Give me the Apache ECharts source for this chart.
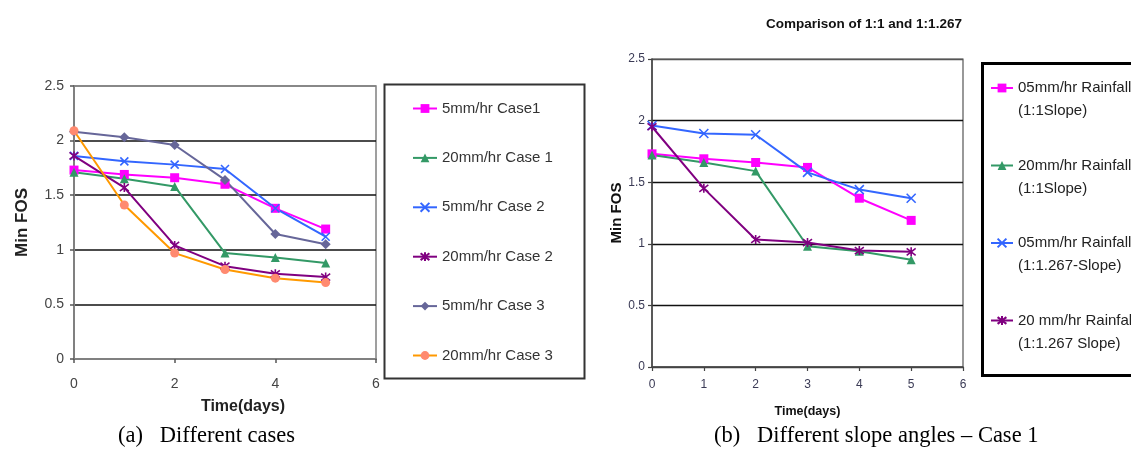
<!DOCTYPE html>
<html>
<head>
<meta charset="utf-8">
<script src="https://cdn.jsdelivr.net/npm/echarts@6/dist/echarts.min.js"></script>
<style>
html,body{margin:0;padding:0;background:#fff;}
#chart{width:1131px;height:451px;}
</style>
</head>
<body>
<div id="chart"></div>
<script>
// ---------- data ----------
const days = [0, 1, 2, 3, 4, 5];

const leftNames = ['5mm/hr Case1', '20mm/hr Case 1', '5mm/hr Case 2', '20mm/hr Case 2', '5mm/hr Case 3', '20mm/hr Case 3'];
const left5Case1  = [1.73, 1.69, 1.66, 1.60, 1.38, 1.19];
const left20Case1 = [1.71, 1.65, 1.58, 0.97, 0.93, 0.88];
const left5Case2  = [1.86, 1.81, 1.78, 1.74, 1.38, 1.12];
const left20Case2 = [1.86, 1.57, 1.04, 0.85, 0.78, 0.75];
const left5Case3  = [2.08, 2.03, 1.96, 1.64, 1.145, 1.05];
const left20Case3 = [2.09, 1.41, 0.97, 0.82, 0.74, 0.70];
const leftValues = [left5Case1, left20Case1, left5Case2, left20Case2, left5Case3, left20Case3];

const rightNames = ['05mm/hr Rainfall\n(1:1Slope)', '20mm/hr Rainfall\n(1:1Slope)', '05mm/hr Rainfall\n(1:1.267-Slope)', '20 mm/hr Rainfall\n(1:1.267 Slope)'];
const right05Slope1   = [1.73, 1.69, 1.66, 1.62, 1.37, 1.19];
const right20Slope1   = [1.72, 1.66, 1.59, 0.98, 0.94, 0.87];
const right05Slope127 = [1.96, 1.895, 1.885, 1.58, 1.44, 1.37];
const right20Slope127 = [1.95, 1.45, 1.035, 1.01, 0.945, 0.935];
const rightValues = [right05Slope1, right20Slope1, right05Slope127, right20Slope127];

// ---------- styles ----------
const ARIAL = "'Liberation Sans', Arial, sans-serif";
const SERIF = "'Liberation Serif', 'Times New Roman', serif";
const X_SYM = 'path://M0,0L10,10M10,0L0,10';
const STAR_SYM = 'path://M0,0L10,10M10,0L0,10M5,-1.5L5,11.5';

const leftStyles = [
  {line: '#FF00FF', fill: '#FF00FF', symbol: 'rect', size: 9},
  {line: '#339966', fill: '#339966', symbol: 'triangle', size: 9},
  {line: '#3366FF', fill: 'none', border: '#3366FF', symbol: X_SYM, size: 8},
  {line: '#800080', fill: 'none', border: '#800080', symbol: STAR_SYM, size: 9},
  {line: '#666699', fill: '#666699', symbol: 'diamond', size: 10},
  {line: '#FF9900', fill: '#FF8A70', symbol: 'circle', size: 9}
];
const rightStyles = [
  {line: '#FF00FF', fill: '#FF00FF', symbol: 'rect', size: 9},
  {line: '#339966', fill: '#339966', symbol: 'triangle', size: 9},
  {line: '#3366FF', fill: 'none', border: '#3366FF', symbol: X_SYM, size: 9},
  {line: '#800080', fill: 'none', border: '#800080', symbol: STAR_SYM, size: 9}
];

function makeSeries(name, vals, st, gi) {
  const itemStyle = {color: st.fill === 'none' ? 'rgba(0,0,0,0)' : st.fill};
  if (st.border) { itemStyle.borderColor = st.border; itemStyle.borderWidth = 1.6; }
  else { itemStyle.borderWidth = 0; }
  return {
    type: 'line', name: name, xAxisIndex: gi, yAxisIndex: gi,
    data: days.map((d, i) => [d, vals[i]]),
    symbol: st.symbol, symbolSize: st.size, showSymbol: true,
    lineStyle: {color: st.line, width: 2},
    itemStyle: itemStyle,
    animation: false, silent: true
  };
}

const series = [];
leftNames.forEach((n, i) => series.push(makeSeries(n, leftValues[i], leftStyles[i], 0)));
rightNames.forEach((n, i) => series.push(makeSeries(n, rightValues[i], rightStyles[i], 1)));

const legends = [];
leftNames.forEach((n, i) => {
  legends.push({
    data: [n], left: 412, top: 107 + i * 49.4 - 6, padding: 0,
    itemWidth: 24, itemHeight: 11, itemGap: 0, selectedMode: false,
    textStyle: {fontFamily: ARIAL, fontSize: 15, color: '#333'}
  });
});
rightNames.forEach((n, i) => {
  legends.push({
    data: [n], left: 990, top: 88 + i * 77.5 - 34.5, padding: 0,
    itemWidth: 22, itemHeight: 11, itemGap: 0, selectedMode: false,
    formatter: name => '\n' + name,
    textStyle: {fontFamily: ARIAL, fontSize: 15, color: '#222', lineHeight: 23}
  });
});

const chart = echarts.init(document.getElementById('chart'), null, {renderer: 'canvas'});
chart.setOption({
  backgroundColor: '#fff',
  animation: false,
  title: [{
    text: 'Comparison of 1:1 and 1:1.267', left: 859, top: 12, textAlign: 'center',
    textStyle: {fontFamily: ARIAL, fontSize: 13.5, fontWeight: 'bold', color: '#111'}
  }],
  grid: [
    {left: 74, top: 86, width: 302, height: 273, show: true, borderColor: '#808080', borderWidth: 1.5, backgroundColor: 'transparent'},
    {left: 652, top: 59, width: 311, height: 308, show: true, borderColor: '#555', borderWidth: 1.2, backgroundColor: 'transparent'}
  ],
  xAxis: [
    {gridIndex: 0, type: 'value', min: 0, max: 6, interval: 2,
     name: 'Time(days)', nameLocation: 'middle', nameGap: 40,
     nameTextStyle: {fontFamily: ARIAL, fontSize: 16, fontWeight: 'bold', color: '#222', padding: [0, 0, 0, 36]},
     axisLine: {lineStyle: {color: '#808080', width: 2}},
     axisTick: {show: true, length: 4, lineStyle: {color: '#555', width: 1.5}},
     axisLabel: {fontFamily: ARIAL, fontSize: 14, color: '#444', margin: 18},
     splitLine: {show: false}},
    {gridIndex: 1, type: 'value', min: 0, max: 6, interval: 1,
     name: 'Time(days)', nameLocation: 'middle', nameGap: 38,
     nameTextStyle: {fontFamily: ARIAL, fontSize: 12.5, fontWeight: 'bold', color: '#111'},
     axisLine: {lineStyle: {color: '#444', width: 1.5}},
     axisTick: {show: true, length: 4, lineStyle: {color: '#444', width: 1.2}},
     axisLabel: {fontFamily: ARIAL, fontSize: 12, color: '#3a3a55', margin: 12},
     splitLine: {show: false}}
  ],
  yAxis: [
    {gridIndex: 0, type: 'value', min: 0, max: 2.5, interval: 0.5,
     name: 'Min FOS', nameLocation: 'middle', nameGap: 43,
     nameTextStyle: {fontFamily: ARIAL, fontSize: 17, fontWeight: 'bold', color: '#222'},
     axisLine: {show: true, lineStyle: {color: '#808080', width: 2}},
     axisTick: {show: true, length: 4, lineStyle: {color: '#555', width: 1.5}},
     axisLabel: {fontFamily: ARIAL, fontSize: 14, color: '#444', margin: 10},
     splitLine: {show: true, lineStyle: {color: ['#808080', '#111', '#111', '#111', '#111', '#808080'], width: 1.5}}},
    {gridIndex: 1, type: 'value', min: 0, max: 2.5, interval: 0.5,
     name: 'Min FOS', nameLocation: 'middle', nameGap: 19,
     nameTextStyle: {fontFamily: ARIAL, fontSize: 15, fontWeight: 'bold', color: '#111'},
     axisLine: {show: true, lineStyle: {color: '#444', width: 1.5}},
     axisTick: {show: true, length: 4, lineStyle: {color: '#444', width: 1.2}},
     axisLabel: {fontFamily: ARIAL, fontSize: 12, color: '#3a3a55', margin: 7},
     splitLine: {show: true, lineStyle: {color: ['#444', '#111', '#111', '#111', '#111', '#555'], width: 1.3}}}
  ],
  legend: legends,
  series: series,
  graphic: [
    {type: 'rect', left: 382, top: 82, shape: {width: 200, height: 294}, style: {fill: 'none', stroke: '#333', lineWidth: 2}, z: 0},
    {type: 'rect', left: 980, top: 61, shape: {width: 170, height: 312}, style: {fill: 'none', stroke: '#000', lineWidth: 3}, z: 0},
    {type: 'text', left: 118, top: 425, style: {text: '(a)   Different cases', fontFamily: SERIF, fontSize: 22.5, fill: '#000'}},
    {type: 'text', left: 714, top: 425, style: {text: '(b)   Different slope angles \u2013 Case 1', fontFamily: SERIF, fontSize: 22.5, fill: '#000'}}
  ]
});
</script>
</body>
</html>
